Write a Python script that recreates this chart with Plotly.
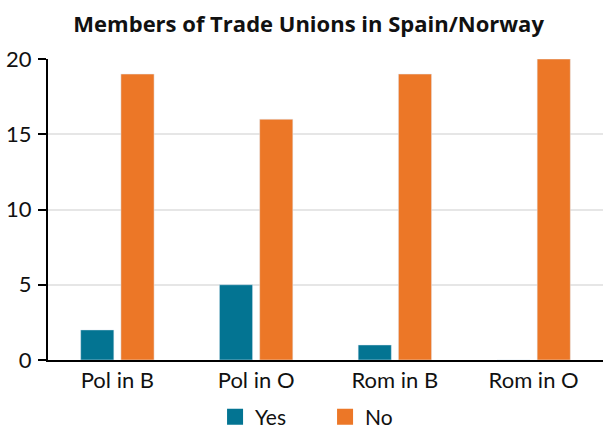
import plotly.graph_objects as go

categories = ["Pol in B", "Pol in O", "Rom in B", "Rom in O"]
yes_values = [2, 5, 1, 0]
no_values = [19, 16, 19, 20]
y_ticks = [0, 5, 10, 15, 20]
series_names = ["Yes", "No"]
series_colors = ["#037492", "#ec7727"]

FONT = "Lato, 'Open Sans', sans-serif"

fig = go.Figure()
for name, vals, col in zip(series_names, [yes_values, no_values], series_colors):
    fig.add_trace(go.Bar(name=name, x=categories, y=vals, marker_color=col, showlegend=False))
# legend entries with larger square swatches
for name, col in zip(series_names, series_colors):
    fig.add_trace(go.Scatter(name=name, x=[None], y=[None], mode="markers",
                             marker=dict(symbol="square", size=16, color=col), showlegend=True))

fig.update_layout(
    width=604, height=430,
    margin=dict(l=48, r=1, t=59, b=70),
    paper_bgcolor="white", plot_bgcolor="white",
    barmode="group", bargap=0.42, bargroupgap=0.175,
    font=dict(family=FONT, size=22, color="#111"),
    title=dict(text="<b>Members of Trade Unions in Spain/Norway</b>", x=0.511, xanchor="center",
               y=0.944, yanchor="middle",
               font=dict(family="'Open Sans', sans-serif", size=22, color="#111")),
    legend=dict(orientation="h", x=0.301, xanchor="left", y=0.03, yref="container", yanchor="middle",
                font=dict(size=21), entrywidth=65, entrywidthmode="pixels", traceorder="normal"),
    xaxis=dict(showline=True, linecolor="black", linewidth=2, ticks="", tickfont=dict(size=22)),
    yaxis=dict(range=[0, 20], tickvals=y_ticks, showline=True, linecolor="black", linewidth=2,
               ticks="outside", ticklen=8, tickwidth=2, tickcolor="black", ticklabelstandoff=2,
               showgrid=True, gridcolor="#e6e6e6", gridwidth=2, zeroline=False, tickfont=dict(size=22)),
)
fig.write_html("out.html", config={"displayModeBar": False},
               post_script="document.body.style.margin='0';window.dispatchEvent(new Event('resize'));")
